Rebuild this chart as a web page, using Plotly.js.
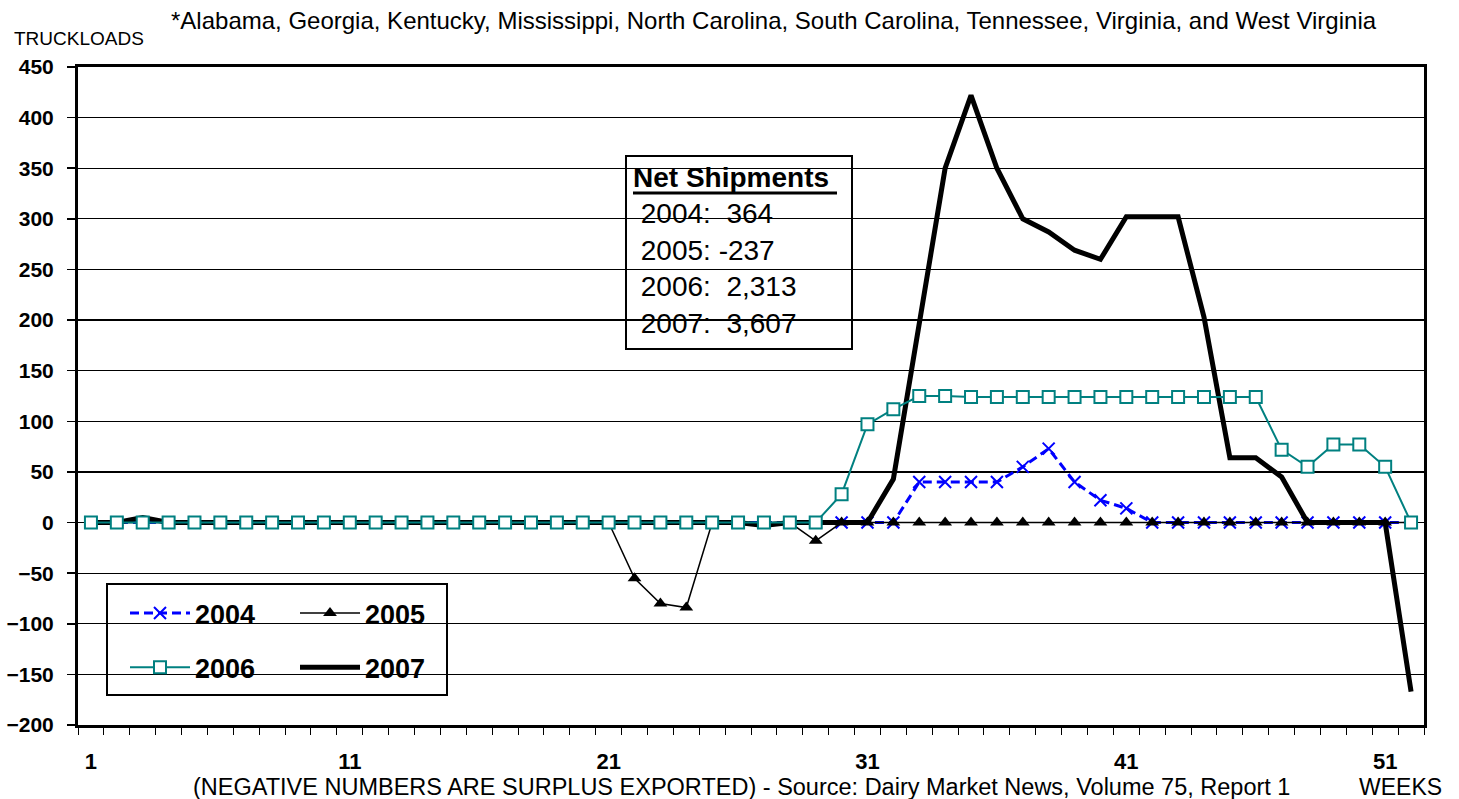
<!DOCTYPE html>
<html>
<head>
<meta charset="utf-8">
<script src="https://cdn.plot.ly/plotly-3.0.1.min.js"></script>
<style>html,body{margin:0;padding:0;background:#fff;}#chart{width:1459px;height:799px;}</style>
</head>
<body>
<div id="chart"></div>
<script>
// ---- data ----
const weeks = [1,2,3,4,5,6,7,8,9,10,11,12,13,14,15,16,17,18,19,20,21,22,23,24,25,26,27,28,29,30,31,32,33,34,35,36,37,38,39,40,41,42,43,44,45,46,47,48,49,50,51,52];
const y2004 = [0,0,0,0,0,0,0,0,0,0,0,0,0,0,0,0,0,0,0,0,0,0,0,0,0,0,0,0,0,0,0,0,40,40,40,40,55,73,40,22,14,0,0,0,0,0,0,0,0,0,0,0];
const y2005 = [0,0,0,0,0,0,0,0,0,0,0,0,0,0,0,0,0,0,0,0,0,-55,-80,-84,0,0,0,0,-18,0,0,0,0,0,0,0,0,0,0,0,0,0,0,0,0,0,0,0,0,0,0,0];
const y2006 = [0,0,0,0,0,0,0,0,0,0,0,0,0,0,0,0,0,0,0,0,0,0,0,0,0,0,0,0,0,28,97,112,125,125,124,124,124,124,124,124,124,124,124,124,124,124,72,55,77,77,55,0];
const y2007 = [0,0,5,0,0,0,0,0,0,0,0,0,0,0,0,0,0,0,0,0,0,0,0,0,0,0,-3,0,0,0,0,43,200,350,422,350,300,287,269,260,302,302,302,203,64,64,45,0,0,0,0,-167];
const xTickVals = [1,11,21,31,41,51];
const xTickText = ["1","11","21","31","41","51"];
const netYears = ["2004","2005","2006","2007"];
const netValues = ["364","-237","2,313","3,607"];
const statesNote = "*Alabama, Georgia, Kentucky, Mississippi, North Carolina, South Carolina, Tennessee, Virginia, and West Virginia";
const sourceNote = "(NEGATIVE NUMBERS ARE SURPLUS EXPORTED) - Source: Dairy Market News, Volume 75, Report 1";

// ---- layout helpers (pixel -> paper) ----
const L = 78, R = 1424, T = 67, B = 725;
const px = x => (x - L) / (R - L);
const py = y => (B - y) / (B - T);
const FONT = "Liberation Sans, Arial, sans-serif";

const traces = [
  {x: weeks, y: y2004, name: "2004", mode: "lines+markers", legend: "legend", legendrank: 1, legendgroup: "a",
   line: {color: "#0000FF", width: 3, dash: "9px,5px"},
   marker: {symbol: "x-thin", size: 12, color: "#0000FF", line: {color: "#0000FF", width: 2}}},
  {x: weeks, y: y2007, name: "2007", mode: "lines", legend: "legend2", legendrank: 2, legendgroup: "d",
   line: {color: "#000000", width: 5}},
  {x: weeks, y: y2005, name: "2005", mode: "lines+markers", legend: "legend2", legendrank: 1, legendgroup: "b",
   line: {color: "#000000", width: 1.5},
   marker: {symbol: "triangle-up", size: 12, color: "#000000"}},
  {x: weeks, y: y2006, name: "2006", mode: "lines+markers", legend: "legend", legendrank: 2, legendgroup: "c",
   line: {color: "#008080", width: 2},
   marker: {symbol: "square", size: 12, color: "#FFFFFF", line: {color: "#008080", width: 2}}}
];

const legendCommon = {
  bgcolor: "rgba(0,0,0,0)", borderwidth: 0, xanchor: "left", yanchor: "top",
  font: {family: FONT, size: 27, color: "#000", weight: "bold"},
  itemwidth: 60, tracegroupgap: 16, traceorder: "grouped"
};

const layout = {
  width: 1459, height: 799,
  margin: {l: L, r: 1459 - R, t: T, b: 799 - B, pad: 0},
  paper_bgcolor: "#fff", plot_bgcolor: "#fff",
  showlegend: true,
  legend: Object.assign({}, legendCommon, {x: px(125), y: py(589)}),
  legend2: Object.assign({}, legendCommon, {x: px(295), y: py(589)}),
  xaxis: {
    range: [0.5, 52.5], tickmode: "array", tickvals: xTickVals, ticktext: xTickText,
    ticks: "", showgrid: false, zeroline: false,
    showline: true, linecolor: "#000", linewidth: 3, mirror: true,
    tickfont: {family: FONT, size: 22, color: "#000", weight: "bold"},
    ticklabelstandoff: 15,
    minor: {ticks: "outside", ticklen: 7, tickwidth: 1, tickcolor: "#000", tick0: 0.5, dtick: 1, showgrid: false}
  },
  yaxis: {
    range: [-200, 450], tick0: 0, dtick: 50,
    ticks: "outside", ticklen: 8, tickwidth: 1.5, tickcolor: "#000",
    showgrid: true, gridcolor: "#000", gridwidth: 1.2, zeroline: false,
    showline: true, linecolor: "#000", linewidth: 3, mirror: true,
    tickfont: {family: FONT, size: 21, color: "#000", weight: "bold"},
    ticklabelstandoff: 9
  },
  shapes: [
    {type: "rect", xref: "paper", yref: "paper", x0: px(107), x1: px(447), y0: py(695), y1: py(584),
     fillcolor: "#fff", line: {color: "#000", width: 2}, layer: "between"},
    {type: "rect", xref: "paper", yref: "paper", x0: px(626), x1: px(852), y0: py(349), y1: py(156),
     fillcolor: "#fff", line: {color: "#000", width: 2}, layer: "between"},
    {type: "line", xref: "paper", yref: "paper", x0: px(633), x1: px(837), y0: py(193), y1: py(193),
     line: {color: "#000", width: 3}, layer: "above"}
  ],
  annotations: [
    {text: "<b>Net Shipments</b><br>" + netYears.map((yr, i) => "&nbsp;" + yr + ":" + (netValues[i].startsWith("-") ? "&nbsp;" : "&nbsp;&nbsp;") + netValues[i]).join("<br>"),
     xref: "paper", yref: "paper", x: px(631), y: py(160), xanchor: "left", yanchor: "top",
     align: "left", showarrow: false, font: {family: FONT, size: 28, color: "#000"}},
    {text: statesNote, xref: "paper", yref: "paper", x: px(169), y: py(20), xanchor: "left", yanchor: "middle",
     showarrow: false, font: {family: FONT, size: 24, color: "#000"}},
    {text: "TRUCKLOADS", xref: "paper", yref: "paper", x: px(12), y: py(39), xanchor: "left", yanchor: "middle",
     showarrow: false, font: {family: FONT, size: 19, color: "#000"}},
    {text: sourceNote, xref: "paper", yref: "paper", x: px(741), y: py(787), xanchor: "center", yanchor: "middle",
     showarrow: false, font: {family: FONT, size: 23.5, color: "#000"}},
    {text: "WEEKS", xref: "paper", yref: "paper", x: px(1400), y: py(787), xanchor: "center", yanchor: "middle",
     showarrow: false, font: {family: FONT, size: 23, color: "#000"}}
  ]
};

Plotly.newPlot("chart", traces, layout, {displayModeBar: false, staticPlot: true});
</script>
</body>
</html>
